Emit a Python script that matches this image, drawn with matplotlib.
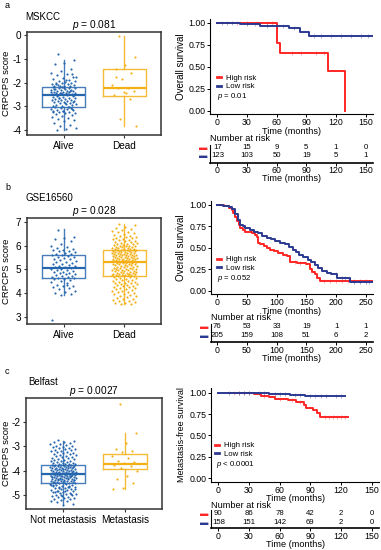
import numpy as np
import matplotlib.pyplot as plt

plt.rcParams['font.family'] = ['Liberation Sans', 'DejaVu Sans']
plt.rcParams['axes.unicode_minus'] = False
plt.rcParams['mathtext.fontset'] = 'custom'
plt.rcParams['mathtext.it'] = 'Liberation Sans:italic'
plt.rcParams['mathtext.rm'] = 'Liberation Sans'

# ---------------- data ----------------
# panel a : MSKCC
a_alive = [-0.81, -1.05, -1.18, -1.22, -1.45, -1.52, -1.58, -1.62, -1.70, -1.75, -1.80, -1.85, -1.88, -1.92,
           -1.95, -1.98, -2.00, -2.02, -2.04, -2.06, -2.08, -2.10, -2.12, -2.13, -2.14, -2.15, -2.16, -1.78,
           -1.90, -2.05, -1.66,
           -2.18, -2.20, -2.22, -2.24, -2.25, -2.27, -2.28, -2.30, -2.31, -2.33, -2.34, -2.36, -2.37, -2.38,
           -2.40, -2.41, -2.42, -2.44, -2.45, -2.46, -2.47, -2.48, -2.49, -2.50, -2.51, -2.52, -2.21, -2.29,
           -2.35, -2.43, -2.39,
           -2.54, -2.56, -2.58, -2.60, -2.62, -2.63, -2.65, -2.67, -2.68, -2.70, -2.72, -2.74, -2.75, -2.77,
           -2.79, -2.80, -2.82, -2.84, -2.86, -2.88, -2.90, -2.92, -2.94, -2.96, -2.98, -3.00, -3.01, -2.66,
           -2.78, -2.87,
           -3.04, -3.06, -3.08, -3.10, -3.12, -3.14, -3.16, -3.18, -3.20, -3.22, -3.24, -3.27, -3.30, -3.33,
           -3.36, -3.40, -3.44, -3.48, -3.52, -3.57, -3.63, -3.70, -3.78, -3.85, -3.90, -3.95, -4.00, -3.11,
           -3.19, -3.26, -3.05]
a_dead = [-0.03, -0.91, -1.26, -1.41, -1.59, -1.87, -2.10, -2.22, -2.24, -2.36, -2.39, -2.53, -2.69, -3.55,
          -3.83, -2.45, -1.75]
# box stats: q1, median, q3, whisker low, whisker high
a_box = [(-3.04, -2.54, -2.19, -4.02, -1.05), (-2.55, -2.24, -1.42, -3.83, -0.03)]

# panel b : GSE16560
b_alive = [6.66, 6.35, 6.30, 6.28, 6.20, 6.05, 6.00, 5.95, 5.90, 5.87, 5.82, 5.80, 5.78, 5.75, 5.72, 5.70,
           5.66, 5.63, 5.61,
           5.58, 5.55, 5.52, 5.50, 5.47, 5.44, 5.41, 5.38, 5.35, 5.32, 5.30, 5.27, 5.24, 5.20, 5.17, 5.15,
           5.12, 5.10, 5.09,
           5.06, 5.03, 5.00, 4.98, 4.95, 4.92, 4.90, 4.88, 4.85, 4.82, 4.80, 4.78, 4.75, 4.72, 4.70, 4.68,
           4.66, 4.64, 4.63,
           4.60, 4.57, 4.55, 4.50, 4.45, 4.40, 4.35, 4.30, 4.28, 4.25, 4.20, 4.15, 4.10, 4.05, 4.00, 3.95,
           3.90, 2.87, 4.33]
b_dead = [6.90, 6.85, 6.80, 6.74, 6.70, 6.66, 6.62, 6.58, 6.55, 6.51, 6.48, 6.45, 6.42, 6.40, 6.37, 6.35,
          6.32, 6.30, 6.28, 6.26, 6.24, 6.22, 6.20, 6.18, 6.16, 6.14, 6.12, 6.10, 6.08, 6.07, 6.05, 6.03,
          6.02, 6.00, 5.99, 5.97, 5.96, 5.94, 5.93, 5.92, 5.90, 5.89, 5.88, 5.87, 5.86, 5.85, 5.84, 5.83,
          5.82, 5.82, 5.81,
          5.80, 5.79, 5.78, 5.77, 5.76, 5.75, 5.74, 5.73, 5.72, 5.71, 5.70, 5.69, 5.68, 5.67, 5.66, 5.65,
          5.64, 5.63, 5.62, 5.61, 5.60, 5.59, 5.58, 5.57, 5.56, 5.55, 5.54, 5.53, 5.52, 5.51, 5.50, 5.49,
          5.48, 5.47, 5.46, 5.45, 5.44, 5.43, 5.42, 5.41, 5.40, 5.39, 5.38, 5.37, 5.36, 5.35, 5.34, 5.34,
          5.33, 5.33, 5.32,
          5.31, 5.30, 5.28, 5.27, 5.26, 5.25, 5.23, 5.22, 5.21, 5.20, 5.18, 5.17, 5.16, 5.15, 5.13, 5.12,
          5.11, 5.10, 5.08, 5.07, 5.06, 5.05, 5.03, 5.02, 5.01, 5.00, 4.98, 4.97, 4.96, 4.95, 4.93, 4.92,
          4.91, 4.90, 4.88, 4.87, 4.86, 4.85, 4.83, 4.82, 4.81, 4.80, 4.79, 4.78, 4.77, 4.76, 4.75, 4.75,
          4.74, 4.74, 4.73,
          4.72, 4.70, 4.68, 4.66, 4.64, 4.62, 4.60, 4.58, 4.56, 4.54, 4.52, 4.50, 4.48, 4.46, 4.44, 4.42,
          4.40, 4.38, 4.36, 4.34, 4.32, 4.30, 4.28, 4.26, 4.24, 4.22, 4.20, 4.18, 4.15, 4.12, 4.10, 4.08,
          4.05, 4.02, 4.00, 3.97, 3.94, 3.91, 3.88, 3.85, 3.82, 3.79, 3.76, 3.73, 3.70, 3.67, 3.64, 3.61,
          3.58, 3.56, 3.55, 3.54]
b_box = [(4.62, 5.07, 5.60, 3.91, 6.69), (4.73, 5.32, 5.81, 3.54, 6.90)]

# panel c : Belfast
c_notmet = [-2.75, -2.79, -2.82, -2.85, -2.88, -2.90, -2.93, -2.95, -2.98, -3.00, -3.02, -3.05, -3.07, -3.09,
            -3.11, -3.13, -3.15, -3.17, -3.19, -3.21, -3.23, -3.25, -3.27, -3.29, -3.31, -3.33, -3.35, -3.37,
            -3.39, -3.41, -3.43, -3.45, -3.47, -3.49, -3.51, -3.53, -3.55, -3.57, -3.59, -3.61, -3.62, -3.64,
            -3.65, -3.67, -3.68, -3.70, -3.71, -3.72, -3.73, -3.74,
            -3.76, -3.77, -3.78, -3.79, -3.80, -3.80, -3.81, -3.82, -3.83, -3.84, -3.85, -3.86, -3.87, -3.88,
            -3.89, -3.90, -3.90, -3.91, -3.92, -3.93, -3.94, -3.95, -3.96, -3.97, -3.98, -3.98, -3.99, -4.00,
            -4.01, -4.02, -4.03, -4.04, -4.05, -4.05, -4.06, -4.07, -4.08, -4.08, -4.09, -4.10, -4.10, -4.11,
            -4.11, -4.12, -4.12, -4.12, -4.13, -4.13, -3.85, -3.95,
            -4.14, -4.15, -4.16, -4.17, -4.18, -4.19, -4.20, -4.21, -4.22, -4.23, -4.24, -4.25, -4.26, -4.27,
            -4.28, -4.29, -4.30, -4.31, -4.32, -4.33, -4.34, -4.35, -4.36, -4.37, -4.38, -4.39, -4.40, -4.41,
            -4.42, -4.43, -4.44, -4.45, -4.46, -4.47, -4.48, -4.49, -4.50, -4.51, -4.51, -4.52, -4.18, -4.22,
            -4.26, -4.30, -4.34, -4.38, -4.42, -4.46, -4.24, -4.35,
            -4.53, -4.55, -4.57, -4.59, -4.61, -4.63, -4.65, -4.67, -4.69, -4.71, -4.73, -4.75, -4.77, -4.79,
            -4.81, -4.83, -4.85, -4.87, -4.89, -4.91, -4.93, -4.95, -4.97, -4.99, -5.01, -5.03, -5.05, -5.07,
            -5.09, -5.11, -5.13, -5.15, -5.17, -5.20, -5.23, -5.26, -5.30, -5.35, -5.42, -4.60, -4.64, -4.70,
            -4.76, -4.82, -4.88, -4.94, -5.00, -4.58, -4.66, -4.84]
c_met = [-1.27, -2.45, -2.86, -3.10, -3.20, -3.25, -3.40, -3.50, -3.60, -3.65, -3.70, -3.75, -3.80, -3.90,
         -4.00, -4.21, -4.36, -4.52, -4.70, -4.76]
c_box = [(-4.52, -4.13, -3.75, -5.35, -2.79), (-3.94, -3.72, -3.34, -4.76, -2.45)]

# Kaplan-Meier curves (step times, survival)
a_hi_t = [0, 60.3, 63.7, 111.6, 129.4]
a_hi_s = [1.0, 0.77, 0.663, 0.448, 0.0]
a_lo_t = [0, 23.3, 43.5, 72.1, 83.9, 92.3, 156.4]
a_lo_s = [1.0, 0.985, 0.97, 0.943, 0.90, 0.847, 0.847]
a_hi_cens = [20, 30, 40, 50, 55, 75, 85, 100, 108]
a_lo_cens = [5, 10, 15, 30, 38, 50, 60, 66, 78, 98, 105, 115, 125, 135, 145, 152]

b_hi_t = [0, 12, 19, 24, 27, 30, 33, 36, 39, 43, 47, 52, 58, 64, 67, 69, 72, 78, 84, 89, 96, 103, 110,
          117, 122, 135, 150, 156, 160, 164, 168, 173, 262]
b_hi_s = [1.0, 0.985, 0.965, 0.94, 0.91, 0.86, 0.81, 0.77, 0.73, 0.71, 0.69, 0.68, 0.67, 0.65, 0.63, 0.56,
          0.54, 0.52, 0.50, 0.48, 0.46, 0.44, 0.42, 0.40, 0.33, 0.325, 0.315, 0.25, 0.22, 0.19, 0.15, 0.11, 0.11]
b_lo_t = [0, 10, 19, 25, 30, 35, 39, 43, 47, 55, 61, 69, 76, 83, 90, 97, 105, 114, 120, 128, 133, 137, 145,
          153, 158, 164, 170, 176, 185, 192, 201, 223, 262]
b_lo_s = [1.0, 0.99, 0.977, 0.95, 0.89, 0.83, 0.77, 0.75, 0.73, 0.71, 0.69, 0.67, 0.64, 0.61, 0.60, 0.58,
          0.56, 0.54, 0.51, 0.48, 0.45, 0.42, 0.39, 0.36, 0.33, 0.30, 0.27, 0.23, 0.21, 0.19, 0.15, 0.10, 0.10]
b_hi_cens = [130, 140, 180, 190, 200, 210, 220, 230, 240, 250]
b_lo_cens = [200, 210, 215, 230, 240, 250, 255]

c_hi_t = [9.5, 35, 42, 50, 55, 68, 76, 84, 86, 93, 96, 99, 127]
c_hi_s = [1.0, 0.985, 0.965, 0.945, 0.93, 0.91, 0.89, 0.86, 0.82, 0.80, 0.76, 0.72, 0.72]
c_lo_t = [0, 35, 50, 70, 85, 124]
c_lo_s = [1.0, 0.995, 0.985, 0.975, 0.96, 0.96]
c_hi_cens = [15, 20, 25, 30, 45, 60, 72, 80, 104, 108, 112, 116, 120, 124]
c_lo_cens = [10, 20, 25, 30, 40, 45, 55, 60, 65, 75, 80, 90, 95, 100, 105, 115, 120]

# number at risk
a_risk_t = [0, 30, 60, 90, 120, 150]
a_risk_hi = [17, 15, 9, 5, 1, 0]
a_risk_lo = [123, 103, 50, 19, 5, 1]
b_risk_t = [0, 50, 100, 150, 200, 250]
b_risk_hi = [76, 53, 33, 19, 1, 1]
b_risk_lo = [205, 159, 108, 51, 6, 2]
c_risk_t = [0, 30, 60, 90, 120, 150]
c_risk_hi = [90, 86, 78, 42, 2, 0]
c_risk_lo = [158, 151, 142, 69, 2, 0]

BLUE = '#2566AE'
ORANGE = '#F4AF14'
RED = '#FF2626'
NAVY = '#2B3990'

W, H = 381, 550
fig = plt.figure(figsize=(W / 100, H / 100), dpi=100)


def px_axes(l, t, r, b):
    return fig.add_axes([l / W, 1 - b / H, (r - l) / W, (b - t) / H])


def box_panel(rect, groups, boxes, labels, ylim, yticks, ptxt):
    ax = px_axes(*rect)
    for i, (vals, st, col) in enumerate(zip(groups, boxes, [BLUE, ORANGE])):
        pos = i + 1
        q1, med, q3, lo, hi = st
        ax.bxp([dict(q1=q1, med=med, q3=q3, whislo=lo, whishi=hi, fliers=[])], positions=[pos],
               widths=0.7, showfliers=False, showcaps=False,
               boxprops=dict(color=col, lw=1.0, alpha=0.85),
               whiskerprops=dict(color=col, lw=1.0, alpha=0.85),
               medianprops=dict(color=col, lw=1.6))
        n = len(vals)
        offs = ((np.arange(n) * 0.6180339887 + 0.3) % 1 - 0.5) * 0.42
        ax.scatter(pos + offs, vals, s=2.4, color=col, lw=0, zorder=3)
    ax.set_xlim(0.4, 2.6)
    ax.set_ylim(*ylim)
    ax.set_yticks(yticks)
    ax.set_xticks([1, 2])
    ax.set_xticklabels(labels)
    ax.tick_params(labelsize=7.2, length=2.5, width=0.8, pad=1.5, color='#333333')
    for s in ax.spines.values():
        s.set_color('#333333')
        s.set_linewidth(1.1)
    ax.set_title(ptxt, fontsize=7.3, pad=2.5)
    ax.set_ylabel('CRPCPS score', fontsize=6.8)
    ax.yaxis.set_label_coords(-(rect[0] - 11.5) / (rect[2] - rect[0]), 0.5)
    return ax


def step_with_cens(ax, t, s, cens, col, label):
    ax.step(t, s, where='post', color=col, lw=1.4, label=label)
    idx = np.searchsorted(t, cens, side='right') - 1
    ax.plot(cens, np.array(s)[idx], ls='none', marker='|', ms=2.5, mew=0.5, color=col, alpha=0.55)


def km_panel(rect, xlim, xticks, curves, ylabel, ylsize, leg_xy, p_xy, ptxt):
    ax = px_axes(*rect)
    for (t, s, cens, col, lab) in curves:
        step_with_cens(ax, t, s, cens, col, lab)
    ax.set_xlim(*xlim)
    ax.set_ylim(-0.04, 1.05)
    ax.set_xticks(xticks)
    ax.set_yticks([0, 0.25, 0.5, 0.75, 1.0])
    ax.set_yticklabels(['0.00', '0.25', '0.50', '0.75', '1.00'])
    ax.tick_params(labelsize=6.3, length=2, width=0.7, pad=1)
    for side in ['top', 'right']:
        ax.spines[side].set_visible(False)
    for side in ['left', 'bottom']:
        ax.spines[side].set_linewidth(0.8)
    ax.set_xlabel('Time (months)', fontsize=6.6, labelpad=-0.5)
    ax.set_ylabel(ylabel, fontsize=ylsize)
    ax.yaxis.set_label_coords(-(rect[0] - 185.5) / (rect[2] - rect[0]), 0.5)
    leg = ax.legend(loc='center left', bbox_to_anchor=leg_xy, frameon=False, fontsize=5.6,
                    handlelength=0.55, handletextpad=0.6, labelspacing=0.15, borderpad=0, borderaxespad=0)
    for h in leg.legend_handles:
        h.set_linewidth(2.0)
    ax.text(p_xy[0], p_xy[1], ptxt, transform=ax.transAxes, fontsize=5.6, va='center', ha='left')
    return ax


def risk_table(rect, xlim, times, hi, lo, ylim, title_y):
    ax = px_axes(*rect)
    for t, n1, n2 in zip(times, hi, lo):
        ax.text(t, 1, str(n1), ha='center', va='center', fontsize=5.6)
        ax.text(t, 0, str(n2), ha='center', va='center', fontsize=5.6)
    ax.set_xlim(*xlim)
    ax.set_ylim(*ylim)
    ax.set_xticks(times)
    ax.set_yticks([1, 0])
    ax.set_yticklabels(['\u25ac', '\u25ac'], fontsize=6)
    for lab, col in zip(ax.get_yticklabels(), [RED, NAVY]):
        lab.set_color(col)
    ax.tick_params(axis='y', length=0, pad=2)
    ax.tick_params(axis='x', labelsize=6.3, length=2, width=0.7, pad=0.5)
    for side in ['top', 'right']:
        ax.spines[side].set_visible(False)
    ax.spines['left'].set_linewidth(0.8)
    ax.spines['bottom'].set_linewidth(1.2)
    ax.set_xlabel('Time (months)', fontsize=6.6, labelpad=-0.5)
    fig.text(rect[0] / W, 1 - title_y / H, 'Number at risk', fontsize=6.6, va='center', ha='left')
    return ax


# ---------------- panel a ----------------
fig.text(5 / W, 1 - 6 / H, 'a', fontsize=6.5, va='center')
fig.text(25 / W, 1 - 16.5 / H, 'MSKCC', fontsize=7, va='center')
box_panel((27, 32, 161, 135), [a_alive, a_dead], a_box, ['Alive', 'Dead'],
          (-4.21, 0.13), [-4, -3, -2, -1, 0], r'$p$ = 0.081')
km_panel((210, 18.6, 373, 114.3), (-7.5, 157.5), a_risk_t,
         [(a_hi_t, a_hi_s, a_hi_cens, RED, 'High risk'), (a_lo_t, a_lo_s, a_lo_cens, NAVY, 'Low risk')],
         'Overall survival', 7, (0.041, 0.335), (0.041, 0.184), r'$p$ = 0.01')
risk_table((210, 145, 373, 162.7), (-7.5, 157.5), a_risk_t, a_risk_hi, a_risk_lo, (-0.9, 1.31), 138.5)

# ---------------- panel b ----------------
fig.text(5 / W, 1 - 187 / H, 'b', fontsize=6.5, va='center')
fig.text(25 / W, 1 - 198 / H, 'GSE16560', fontsize=7, va='center')
box_panel((27, 218, 161, 324), [b_alive, b_dead], b_box, ['Alive', 'Dead'],
          (2.69, 7.16), [3, 4, 5, 6, 7], r'$p$ = 0.028')
km_panel((210.7, 200.7, 373, 294.1), (-11, 262), b_risk_t,
         [(b_hi_t, b_hi_s, b_hi_cens, RED, 'High risk'), (b_lo_t, b_lo_s, b_lo_cens, NAVY, 'Low risk')],
         'Overall survival', 7, (0.037, 0.324), (0.037, 0.165), r'$p$ = 0.052')
risk_table((210.7, 324, 373, 342.3), (-11, 262), b_risk_t, b_risk_hi, b_risk_lo, (-0.8, 1.35), 318)

# ---------------- panel c ----------------
fig.text(5 / W, 1 - 371 / H, 'c', fontsize=6.5, va='center')
fig.text(28 / W, 1 - 382 / H, 'Belfast', fontsize=7, va='center')
box_panel((26, 398, 162, 509), [c_notmet, c_met], c_box, ['Not metastasis', 'Metastasis'],
          (-5.57, -1.03), [-5, -4, -3, -2], r'$p$ = 0.0027')
km_panel((210.7, 388.4, 379.4, 481.7), (-7.5, 157.5), c_risk_t,
         [(c_hi_t, c_hi_s, c_hi_cens, RED, 'High risk'), (c_lo_t, c_lo_s, c_lo_cens, NAVY, 'Low risk')],
         'Metastasis-free survival', 6.5, (0.025, 0.34), (0.03, 0.179), r'$p$ < 0.0001')
risk_table((210.7, 510, 379.4, 528.3), (-7.5, 157.5), c_risk_t, c_risk_hi, c_risk_lo, (-0.74, 1.41), 506)

fig.savefig('out.png', dpi=100)
